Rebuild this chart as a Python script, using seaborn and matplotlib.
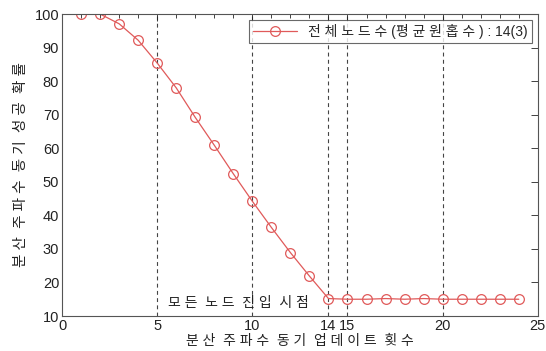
import numpy as np
import pandas as pd
import matplotlib
matplotlib.use('Agg')
import matplotlib.pyplot as plt
from matplotlib.ticker import MultipleLocator, FixedLocator
import seaborn as sns

# data
update_count = list(range(1, 25))
success_prob = [100, 100, 97.1, 92.2, 85.4, 78.0, 69.2, 60.9, 52.4, 44.2, 36.4, 28.9,
                21.9, 15.2, 15.0, 15.0, 15.2, 15.0, 15.2, 15.0, 15.0, 15.0, 15.0, 15.0]
marker_lines = [5, 10, 14, 15, 20]
x_ticks = [0, 5, 10, 14, 15, 20, 25]
y_ticks = list(range(10, 101, 10))

legend_label = "전 체 노 드 수 (평 균 원 홉 수 ) : 14(3)"
x_label = "분 산  주 파 수  동 기  업 데 이 트  횟 수"
y_label = "분 산  주 파 수  동 기  성 공  확 률"
note_text = "모 든  노 드  진 입  시 점"

sns.set_theme(style='white')
plt.rcParams['font.family'] = ['Liberation Sans', 'Noto Sans CJK KR', 'DejaVu Sans']

df = pd.DataFrame({'x': update_count, 'y': success_prob})

fig = plt.figure(figsize=(5.46, 3.51), dpi=100)
ax = fig.add_axes([0.1136, 0.0997, 0.8714, 0.8603])

line_color = '#e05a5a'
sns.lineplot(data=df, x='x', y='y', ax=ax, color=line_color, linewidth=0.9,
             marker='o', markersize=7, markerfacecolor='none',
             markeredgecolor=line_color, markeredgewidth=0.9, label=legend_label)

for xv in marker_lines:
    ax.axvline(xv, color='#444444', linestyle=(0, (3.5, 3)), linewidth=0.8, zorder=0)

ax.text(5.55, 13.9, note_text, fontsize=10, va='center', ha='left', color='#222222')

ax.set_xlim(0, 25)
ax.set_ylim(10, 100)
ax.xaxis.set_major_locator(FixedLocator(x_ticks))
ax.xaxis.set_minor_locator(MultipleLocator(1))
ax.yaxis.set_major_locator(FixedLocator(y_ticks))
ax.tick_params(which='both', direction='in', top=True, right=True,
               labelsize=10.5, colors='#222222', pad=2)
ax.tick_params(which='major', length=5, width=0.6)
ax.tick_params(which='minor', length=3, width=0.6)
for s in ax.spines.values():
    s.set_color('#555555')
    s.set_linewidth(0.8)

ax.set_xlabel(x_label, fontsize=10, labelpad=1, color='#222222')
ax.set_ylabel(y_label, fontsize=10.5, labelpad=5, color='#222222')

leg = ax.legend(loc='upper right', fontsize=10, frameon=True, fancybox=False,
                borderpad=0.3, handlelength=3.2, borderaxespad=0.4)
leg.get_frame().set_edgecolor('#444444')
leg.get_frame().set_linewidth(0.8)

fig.savefig('out.png', dpi=100)
